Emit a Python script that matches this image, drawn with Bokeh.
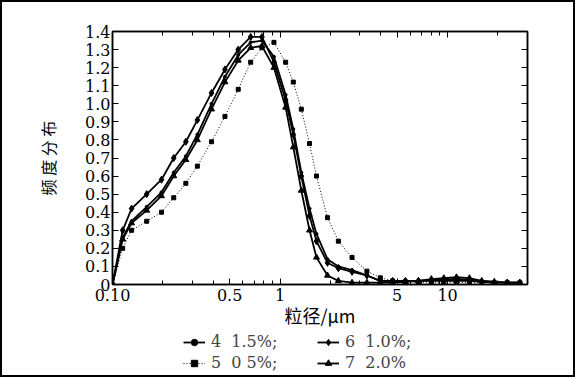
from bokeh.plotting import figure
from bokeh.layouts import column
from bokeh.models import (FixedTicker, LogAxis, LinearAxis, Legend, LegendItem,
                          Range1d)
from bokeh.embed import file_html
from bokeh.resources import INLINE

# particle size (um)
sizes = [0.10, 0.115, 0.13, 0.16, 0.196, 0.232, 0.274, 0.321, 0.39, 0.469,
         0.563, 0.668, 0.78, 0.92, 1.08, 1.2, 1.34, 1.5, 1.65, 1.92,
         2.23, 2.69, 3.3, 3.97, 4.7, 5.6, 6.7, 8.0, 9.5, 11.3,
         13.5, 16.0, 19.0, 22.7, 27.0]

s4 = [0.0, 0.26, 0.35, 0.43, 0.51, 0.62, 0.71, 0.83, 1.00, 1.15,
      1.27, 1.34, 1.35, 1.26, 1.05, 0.86, 0.62, 0.42, 0.28, 0.14,
      0.10, 0.08, 0.05, 0.02, 0.02, 0.02, 0.02, 0.025, 0.03, 0.03,
      0.025, 0.02, 0.015, 0.01, 0.01]
s5 = [0.0, 0.20, 0.30, 0.35, 0.40, 0.48, 0.56, 0.655, 0.79, 0.93,
      1.08, 1.23, 1.31, 1.34, 1.23, 1.12, 0.97, 0.78, 0.60, 0.37,
      0.24, 0.15, 0.074, 0.037, 0.02, 0.015, 0.012, 0.012, 0.012, 0.012,
      0.01, 0.01, 0.01, 0.01, 0.01]
s6 = [0.0, 0.30, 0.42, 0.50, 0.58, 0.70, 0.79, 0.91, 1.06, 1.19,
      1.30, 1.37, 1.37, 1.23, 1.02, 0.83, 0.60, 0.38, 0.24, 0.12,
      0.09, 0.07, 0.05, 0.02, 0.02, 0.02, 0.02, 0.02, 0.02, 0.02,
      0.02, 0.015, 0.01, 0.01, 0.01]
s7 = [0.0, 0.25, 0.34, 0.41, 0.49, 0.60, 0.69, 0.80, 0.97, 1.12,
      1.24, 1.31, 1.32, 1.20, 0.98, 0.76, 0.52, 0.30, 0.15, 0.05,
      0.02, 0.01, 0.01, 0.01, 0.01, 0.015, 0.02, 0.03, 0.035, 0.04,
      0.035, 0.02, 0.015, 0.01, 0.01]

series_labels = ["4  1.5%;", "5  0 5%;", "6  1.0%;", "7  2.0%"]

y_ticks = [0.0, 0.1, 0.2, 0.3, 0.4, 0.5, 0.6, 0.7, 0.8, 0.9, 1.0, 1.1, 1.2, 1.3, 1.4]
y_tick_labels = ["0", "0.1", "0.2", "0.3", "0.4", "0.5", "0.6", "0.7", "0.8", "0.9",
                 "1.0", "1.1", "1.2", "1.3", "1.4"]
x_ticks = [0.1, 0.5, 1, 5, 10]
x_tick_labels = ["0.10", "0.5", "1", "5", "10"]
x_minor = [0.2, 0.3, 0.4, 0.6, 0.7, 0.8, 0.9, 2, 3, 4, 6, 7, 8, 9, 20, 30]

SERIF = "DejaVu Serif"
CJK = "Noto Sans CJK SC"

p = figure(width=571, height=328, x_axis_type="log",
           x_range=Range1d(0.1, 30), y_range=Range1d(0, 1.4),
           output_backend="svg", toolbar_location=None,
           min_border_left=110, min_border_right=46,
           min_border_top=29, min_border_bottom=46,
           background_fill_color="white", border_fill_color="white")
p.grid.visible = False
p.outline_line_color = "black"
p.outline_line_width = 1.5

xt = FixedTicker(ticks=x_ticks, minor_ticks=x_minor)
yt = FixedTicker(ticks=y_ticks)


def style_axis(ax, show_labels=True):
    ax.axis_line_color = "black"
    ax.axis_line_width = 1.5
    ax.major_tick_in = 6
    ax.major_tick_out = 0
    ax.minor_tick_in = 4
    ax.minor_tick_out = 0
    ax.major_tick_line_color = "black"
    ax.minor_tick_line_color = "black"
    ax.major_label_text_font = SERIF
    ax.major_label_text_font_size = "16px"
    ax.major_label_text_color = "black" if show_labels else None


xa = p.xaxis[0]
xa.ticker = xt
xa.major_label_overrides = dict(zip(x_ticks, x_tick_labels))
style_axis(xa)
xa.major_label_standoff = 4
xa.axis_label = "粒径/μm"
xa.axis_label_text_font = CJK
xa.axis_label_text_font_size = "18px"
xa.axis_label_text_font_style = "normal"
xa.axis_label_text_color = "black"
xa.axis_label_standoff = -2

ya = p.yaxis[0]
ya.ticker = yt
ya.major_label_overrides = dict(zip(y_ticks, y_tick_labels))
style_axis(ya)
ya.major_label_standoff = 2
ya.axis_label = "频 度 分 布"
ya.axis_label_text_font = CJK
ya.axis_label_text_font_size = "16px"
ya.axis_label_text_font_style = "normal"
ya.axis_label_text_color = "black"
ya.axis_label_standoff = 22

top = LogAxis(ticker=xt)
style_axis(top, show_labels=False)
p.add_layout(top, "above")

right = LinearAxis(ticker=yt)
style_axis(right, show_labels=False)
p.add_layout(right, "right")

specs = [
    (s4, series_labels[0], "solid", 1.8, "circle", 3),
    (s5, series_labels[1], "1 2", 1.0, "square", 4),
    (s6, series_labels[2], "solid", 1.8, "diamond", 7),
    (s7, series_labels[3], "solid", 1.8, "triangle", 6),
]

# legend panel below the chart
p2 = figure(width=571, height=45, x_range=Range1d(0, 1), y_range=Range1d(0, 1),
            output_backend="svg", toolbar_location=None,
            x_axis_location=None, y_axis_location=None,
            min_border=0, min_border_left=0, min_border_right=0,
            min_border_top=0, min_border_bottom=0,
            background_fill_color="white", border_fill_color="white")
p2.grid.visible = False
p2.outline_line_color = None

items = []
for ys, lab, dash, lw, marker, ms in specs:
    p.line(sizes, ys, line_color="black", line_width=lw, line_dash=dash)
    p.scatter(sizes, ys, marker=marker, size=ms, fill_color="black", line_color="black")
    # legend proxies, placed outside the visible range of the legend panel
    lr = p2.line([-10, -9], [-10, -10], line_color="black", line_width=lw, line_dash=dash)
    sr = p2.scatter([-10], [-10], marker=marker, size=ms, fill_color="black", line_color="black")
    items.append(LegendItem(label=lab, renderers=[lr, sr]))

legend = Legend(items=items, ncols=2, location=(71, 3),
                label_text_font=SERIF, label_text_font_size="16px",
                glyph_width=22, glyph_height=16, label_height=16,
                label_width=104, label_standoff=6, spacing=2,
                padding=0, margin=0, border_line_color=None,
                background_fill_alpha=0)
p2.add_layout(legend, "center")

layout = column(p, p2, spacing=0,
                styles={"border": "2px solid black", "box-sizing": "content-box"})

open("out.html", "w").write(file_html(layout, INLINE))
